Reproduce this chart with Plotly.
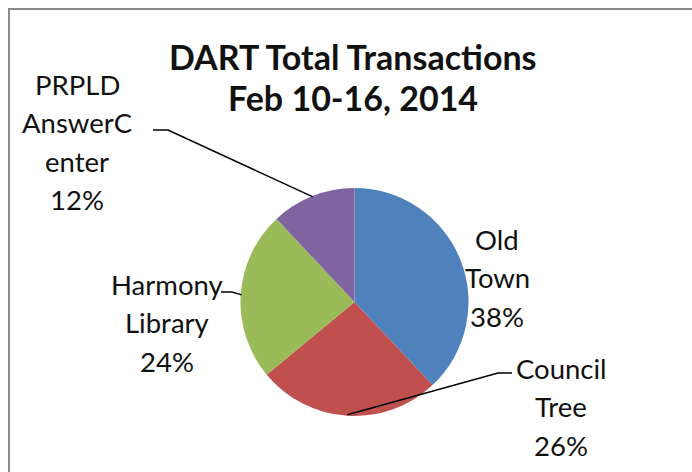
import math
import plotly.graph_objects as go

# ---- data ----
categories = ["Old Town", "Council Tree", "Harmony Library", "PRPLD AnswerCenter"]
values = [38, 26, 24, 12]
label_lines = [["Old", "Town"], ["Council", "Tree"], ["Harmony", "Library"],
               ["PRPLD", "AnswerC", "enter"]]
colors = ["#4F81BD", "#C0504D", "#9BBB59", "#8064A2"]
title_lines = ["DART Total Transactions", "Feb 10-16, 2014"]

# ---- layout geometry (pixels) ----
W, H = 692, 472
CX, CY, R = 354.5, 302, 114
FONT = "Lato"
LABEL_SIZE = 27.5
TITLE_SIZE = 34
LINE = 38.5
label_pos = [(497, 239), (561, 368), (167, 284), (77, 84)]
leaders = [None, ((498, 373), (512, 373)), ((232, 292), (221, 292)),
           ((168, 130), (153, 130))]

fig = go.Figure()
fig.add_trace(go.Pie(
    values=values, labels=categories, sort=False, direction="clockwise",
    rotation=0, textinfo="none", showlegend=False,
    marker=dict(colors=colors, line=dict(width=0)),
    domain=dict(x=[(CX - R) / W, (CX + R) / W],
                y=[1 - (CY + R) / H, 1 - (CY - R) / H]),
))

total = sum(values)
annotations = []
shapes = [dict(type="rect", xref="x", yref="y", x0=9, y0=9, x1=W + 20, y1=H + 20,
               line=dict(color="#8a8a8a", width=2), layer="below")]
cum = 0
for i, v in enumerate(values):
    mid = (cum + v / 2) / total * 2 * math.pi
    cum += v
    ex = CX + (R - 1) * math.sin(mid)
    ey = CY - (R - 1) * math.cos(mid)
    lines = label_lines[i] + [f"{round(v / total * 100)}%"]
    lx, ly = label_pos[i]
    for j, t in enumerate(lines):
        annotations.append(dict(x=lx, y=ly + j * LINE, xref="x", yref="y",
                                text=t, showarrow=False, xanchor="center",
                                yanchor="middle",
                                font=dict(family=FONT, size=LABEL_SIZE,
                                          color="#111111")))
    if leaders[i] is not None:
        (bx, by), (tx, ty) = leaders[i]
        shapes.append(dict(type="path", xref="x", yref="y", layer="above",
                           path=f"M {ex:.2f},{ey:.2f} L {bx},{by} L {tx},{ty}",
                           line=dict(color="#000000", width=1.5)))

for k, t in enumerate(title_lines):
    annotations.append(dict(x=353, y=56 + k * 41, xref="x", yref="y", text=f"<b>{t}</b>",
                            showarrow=False, xanchor="center", yanchor="middle",
                            font=dict(family=FONT, size=TITLE_SIZE, color="#111111")))

fig.update_layout(
    width=W, height=H, margin=dict(l=0, r=0, t=0, b=0),
    paper_bgcolor="white", plot_bgcolor="rgba(0,0,0,0)",
    annotations=annotations, shapes=shapes,
    xaxis=dict(range=[0, W], visible=False, fixedrange=True),
    yaxis=dict(range=[H, 0], visible=False, fixedrange=True),
)

fig.write_html("out.html")
